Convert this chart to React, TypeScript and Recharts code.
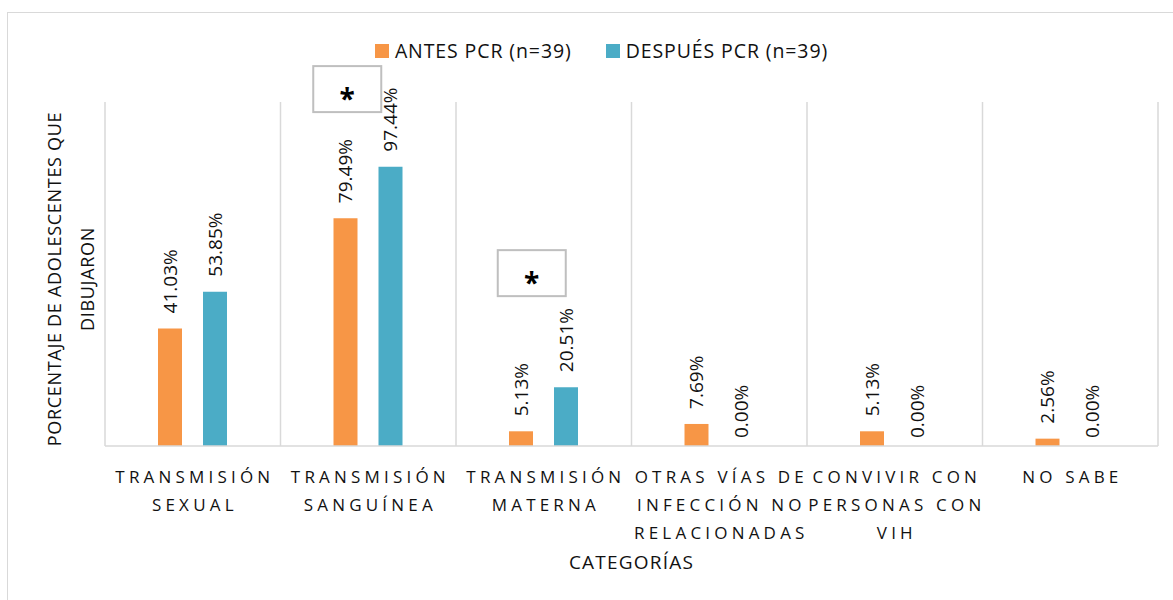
import React from 'react';
import {
  BarChart,
  Bar,
  XAxis,
  YAxis,
  CartesianGrid,
  Legend,
  LabelList,
  Label,
  ReferenceDot,
} from 'recharts';

const categories = [
  'TRANSMISIÓN\nSEXUAL',
  'TRANSMISIÓN\nSANGUÍNEA',
  'TRANSMISIÓN\nMATERNA',
  'OTRAS VÍAS DE\nINFECCIÓN NO\nRELACIONADAS',
  'CONVIVIR CON\nPERSONAS CON\nVIH',
  'NO SABE',
];
const antes = [41.03, 79.49, 5.13, 7.69, 5.13, 2.56];
const despues = [53.85, 97.44, 20.51, 0, 0, 0];
const seriesNames = ['ANTES PCR (n=39)', 'DESPUÉS PCR (n=39)'];

const colors = ['#F79646', '#4BACC6'];
const FONT = '"Open Sans", sans-serif';

const data = categories.map((cat, i) => ({ cat, antes: antes[i], despues: despues[i] }));

function CategoryTick({ x, y, payload }: any) {
  const lines = String(payload.value).split('\n');
  const ls = 4.2;
  return (
    <text x={x + ls / 2} y={y} textAnchor="middle" fontSize={17} fontFamily={FONT} fill="#111" style={{ letterSpacing: ls }}>
      {lines.map((l, i) => (
        <tspan key={i} x={x + ls / 2} dy={i === 0 ? 29 : 28}>
          {l}
        </tspan>
      ))}
    </text>
  );
}

function ValueLabel(props: any) {
  const { x, y, width, value } = props;
  const cx = x + width / 2;
  const by = y - (value > 0 ? 15 : 8);
  return (
    <text
      x={cx}
      y={by}
      transform={`rotate(-90 ${cx} ${by})`}
      fontSize={19}
      fontFamily={FONT}
      fill="#111"
      textAnchor="start"
      dominantBaseline="central"
    >
      {Number(value).toFixed(2)}%
    </text>
  );
}

const starBox = (dx: number) => (props: any) => {
  const { cx, cy } = props;
  return (
    <g>
      <rect x={cx + dx - 34} y={cy - 23} width={68} height={46} fill="#fff" stroke="#bfbfbf" strokeWidth={2} />
      <text x={cx + dx} y={cy + 20} textAnchor="middle" fontSize={28} fontWeight="bold" fontFamily={FONT} fill="#000">
        *
      </text>
    </g>
  );
};

function YTitle({ viewBox }: any) {
  const cy = viewBox.y + viewBox.height / 2 + 5;
  return (
    <g fontFamily={FONT} fontSize={18} fill="#111" style={{ letterSpacing: 0.7 }}>
      <text x={54} y={cy} transform={`rotate(-90 54 ${cy})`} textAnchor="middle" dominantBaseline="central">
        PORCENTAJE DE ADOLESCENTES QUE
      </text>
      <text x={87} y={cy} transform={`rotate(-90 87 ${cy})`} textAnchor="middle" dominantBaseline="central">
        DIBUJARON
      </text>
    </g>
  );
}

function XTitle({ viewBox }: any) {
  return (
    <text
      x={viewBox.x + viewBox.width / 2}
      y={viewBox.y + 123}
      textAnchor="middle"
      fontFamily={FONT}
      fontSize={19}
      fill="#111"
      style={{ letterSpacing: 1.2 }}
    >
      CATEGORÍAS
    </text>
  );
}

function LegendBox({ payload }: any) {
  return (
    <div
      style={{
        display: 'flex',
        justifyContent: 'center',
        gap: 34,
        fontFamily: FONT,
        fontSize: 19.5,
        letterSpacing: 0.9,
        color: '#111',
      }}
    >
      {(payload || []).map((p: any) => (
        <div key={p.value} style={{ display: 'flex', alignItems: 'center', gap: 6 }}>
          <span style={{ width: 14, height: 14, background: p.color, display: 'inline-block' }} />
          <span>{p.value}</span>
        </div>
      ))}
    </div>
  );
}

export default function App() {
  return (
    <div style={{ position: 'absolute', left: 0, top: 0, width: 1173, height: 600, background: '#fff' }}>
      <div
        style={{
          position: 'absolute',
          left: 7,
          top: 12,
          width: 1166,
          height: 588,
          borderLeft: '1px solid #d9d9d9',
          borderTop: '1px solid #d9d9d9',
          boxSizing: 'border-box',
        }}
      />
      <BarChart
        width={1173}
        height={600}
        data={data}
        margin={{ top: 102, right: 15, bottom: 24, left: 0 }}
        barSize={24}
        barGap={21}
        style={{ position: 'absolute', left: 0, top: 0 }}
      >
        <CartesianGrid
          horizontal={false}
          stroke="#d9d9d9"
          strokeWidth={1.5}
          verticalCoordinatesGenerator={({ offset }: any) =>
            Array.from({ length: categories.length + 1 }, (_, i) => offset.left + (i * offset.width) / categories.length)
          }
        />
        <XAxis
          dataKey="cat"
          height={130}
          interval={0}
          tickLine={false}
          axisLine={{ stroke: '#d9d9d9', strokeWidth: 1.5 }}
          tick={<CategoryTick />}
        >
          <Label content={<XTitle />} />
        </XAxis>
        <YAxis domain={[0, 120]} width={105} tick={false} axisLine={false} tickLine={false}>
          <Label content={<YTitle />} />
        </YAxis>
        <Legend
          verticalAlign="middle"
          content={<LegendBox />}
          wrapperStyle={{ top: 37, left: 15, width: 1173 }}
        />
        <Bar dataKey="antes" name={seriesNames[0]} fill={colors[0]} minPointSize={0.01} isAnimationActive={false}>
          <LabelList dataKey="antes" content={<ValueLabel />} />
        </Bar>
        <Bar dataKey="despues" name={seriesNames[1]} fill={colors[1]} minPointSize={0.01} isAnimationActive={false}>
          <LabelList dataKey="despues" content={<ValueLabel />} />
        </Bar>
        <ReferenceDot x={categories[1]} y={124.5} ifOverflow="visible" shape={starBox(-21)} />
        <ReferenceDot x={categories[2]} y={60.3} ifOverflow="visible" shape={starBox(-12)} />
      </BarChart>
    </div>
  );
}
